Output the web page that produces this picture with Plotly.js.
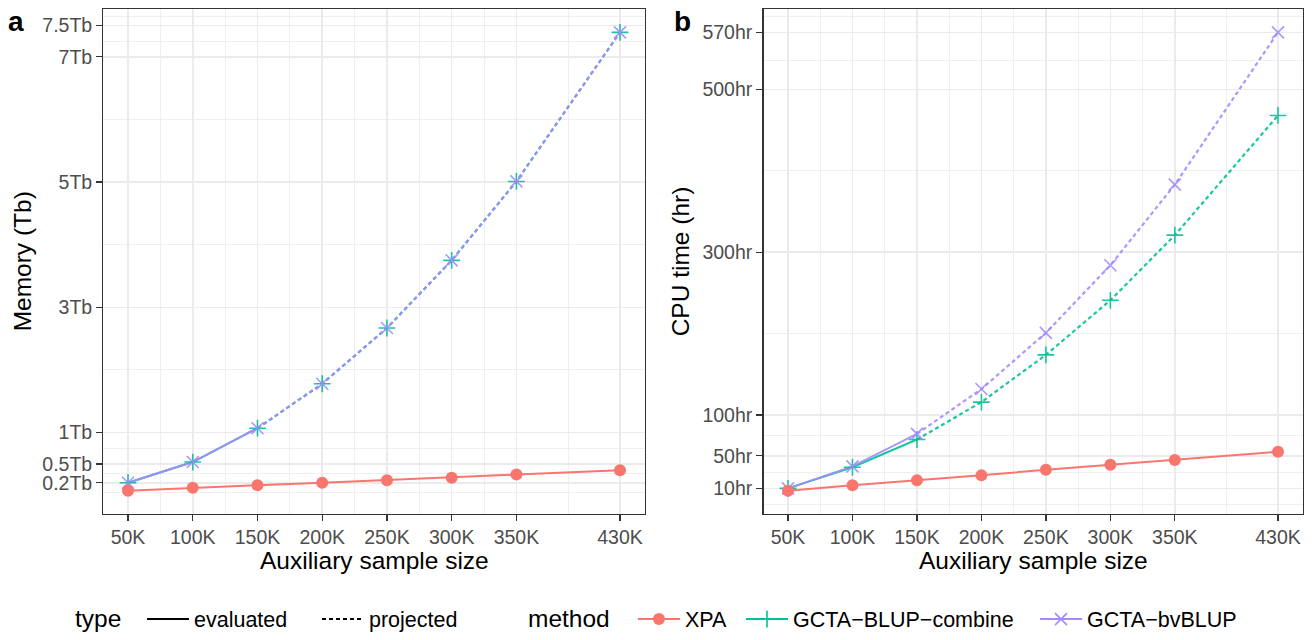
<!DOCTYPE html>
<html><head><meta charset="utf-8">
<script src="https://cdn.plot.ly/plotly-3.0.1.min.js"></script>
<style>html,body{margin:0;padding:0;background:#fff}#chart{width:1313px;height:640px}</style>
</head><body><div id="chart"></div>
<script>
// ---------- data ----------
const sampleSizesK = [50, 100, 150, 200, 250, 300, 350, 430];
const xTickLabels = ['50K', '100K', '150K', '200K', '250K', '300K', '350K', '430K'];
const evaluatedMaxK = 150; // GCTA methods were evaluated up to 150K, projected beyond

const memXPA     = [0.07, 0.12, 0.16, 0.20, 0.24, 0.28, 0.33, 0.40];
const memCombine = [0.20, 0.53, 1.07, 1.78, 2.67, 3.75, 5.01, 7.39];
const memBvBLUP  = [0.20, 0.53, 1.07, 1.78, 2.67, 3.75, 5.01, 7.39];

const cpuXPA     = [7, 14, 20, 26, 33, 39, 45, 55];
const cpuCombine = [10, 36, 70, 116, 174, 241, 321, 468];
const cpuBvBLUP  = [10, 37, 77, 132, 201, 284, 383, 570];

const memTicks = [0.2, 0.5, 1, 3, 5, 7, 7.5];
const memTickLabels = ['0.2Tb', '0.5Tb', '1Tb', '3Tb', '5Tb', '7Tb', '7.5Tb'];
const cpuTicks = [10, 50, 100, 300, 500, 570];
const cpuTickLabels = ['10hr', '50hr', '100hr', '300hr', '500hr', '570hr'];

const typeNames = ['evaluated', 'projected'];
const methodNames = ['XPA', 'GCTA\u2212BLUP\u2212combine', 'GCTA\u2212bvBLUP'];

// ---------- styling ----------
const FONT = 'Liberation Sans, Arial, Helvetica, sans-serif';
const W = 1313, H = 640;
const DASH = '4px,3px';
const methods = [
  {name: methodNames[1], mem: memCombine, cpu: cpuCombine, color: 'rgba(0,192,148,0.9)', solid: '#00C094', symbol: 'cross-thin-open', size: 12, allEvaluated: false},
  {name: methodNames[2], mem: memBvBLUP, cpu: cpuBvBLUP, color: 'rgba(165,138,255,0.9)', solid: '#A58AFF', symbol: 'x-thin-open', size: 12, allEvaluated: false},
  {name: methodNames[0], mem: memXPA, cpu: cpuXPA, color: '#F8766D', solid: '#F8766D', symbol: 'circle', size: 12, allEvaluated: true}
];

// ggplot-like minor breaks (midpoints, with one extension step each side)
function minorBreaks(b) {
  const bd = b[1] - b[0];
  const ext = [b[0] - bd].concat(b, [b[b.length - 1] + bd]);
  const out = [];
  for (let i = 0; i < ext.length - 1; i++) out.push((ext[i] + ext[i + 1]) / 2);
  return out;
}

const traces = [];
function addPanel(key, xa, ya) {
  // lines first
  methods.forEach(m => {
    const ys = m[key];
    const ex = [], ey = [], px = [], py = [];
    sampleSizesK.forEach((s, i) => {
      if (m.allEvaluated || s <= evaluatedMaxK) { ex.push(s); ey.push(ys[i]); }
      if (!m.allEvaluated && s >= evaluatedMaxK) { px.push(s); py.push(ys[i]); }
    });
    traces.push({x: ex, y: ey, xaxis: xa, yaxis: ya, mode: 'lines', showlegend: false, hoverinfo: 'skip',
      line: {color: m.color, width: 2}});
    if (px.length) traces.push({x: px, y: py, xaxis: xa, yaxis: ya, mode: 'lines', showlegend: false, hoverinfo: 'skip',
      line: {color: m.color, width: 2.2, dash: DASH}});
  });
  // then points
  methods.forEach(m => {
    const isCircle = m.symbol === 'circle';
    traces.push({x: sampleSizesK, y: m[key], xaxis: xa, yaxis: ya, mode: 'markers', showlegend: false,
      marker: {symbol: m.symbol, size: m.size, color: m.color,
        line: {color: m.color, width: isCircle ? 0 : 1.6}}});
  });
}
addPanel('mem', 'x', 'y');
addPanel('cpu', 'x2', 'y2');

// legend-only traces: type
traces.push({x: [null], y: [null], xaxis: 'x', yaxis: 'y', mode: 'lines', name: typeNames[0], legend: 'legend',
  legendwidth: 118, line: {color: '#000', width: 2}});
traces.push({x: [null], y: [null], xaxis: 'x', yaxis: 'y', mode: 'lines', name: typeNames[1], legend: 'legend',
  line: {color: '#000', width: 2, dash: DASH}});
// legend-only traces: method
const legendOrder = [methods[2], methods[0], methods[1]];
const methodWidths = [51, 237, null];
legendOrder.forEach((m, i) => {
  const t = {x: [null], y: [null], xaxis: 'x', yaxis: 'y', mode: 'lines+markers', name: m.name, legend: 'legend2',
    line: {color: m.solid, width: 2},
    marker: {symbol: m.symbol, size: m.size, color: m.solid, line: {color: m.solid, width: m.symbol === 'circle' ? 0 : 1.6}}};
  if (methodWidths[i]) t.legendwidth = methodWidths[i];
  traces.push(t);
});

const yDom = [1 - 517 / H, 1 - 9.5 / H];
function baseAxis() {
  return {
    showline: true, mirror: true, linecolor: '#333333', linewidth: 1.3,
    ticks: 'outside', ticklen: 6, tickwidth: 1.3, tickcolor: '#333333',
    tickfont: {family: FONT, size: 19.5, color: '#4D4D4D'},
    showgrid: true, gridcolor: '#EBEBEB', gridwidth: 1.6,
    zeroline: false, fixedrange: true, tickmode: 'array', layer: 'below traces'
  };
}
function xAxis(dom) {
  return Object.assign(baseAxis(), {
    domain: dom, range: [31, 449], tickvals: sampleSizesK, ticktext: xTickLabels,
    minor: {tickmode: 'array', tickvals: minorBreaks(sampleSizesK), showgrid: true, gridcolor: '#EBEBEB', gridwidth: 0.8, ticks: ''}
  });
}
function yAxis(range, tv, tt, anchor) {
  return Object.assign(baseAxis(), {
    domain: yDom, range: range, tickvals: tv, ticktext: tt, anchor: anchor,
    minor: {tickmode: 'array', tickvals: minorBreaks(tv), showgrid: true, gridcolor: '#EBEBEB', gridwidth: 0.8, ticks: ''}
  });
}

const ann = (text, xpx, ypx, size, extra) => Object.assign({
  text: text, xref: 'paper', yref: 'paper', x: xpx / W, y: 1 - ypx / H,
  xanchor: 'center', yanchor: 'middle', showarrow: false,
  font: {family: FONT, size: size, color: '#000'}
}, extra || {});

const legendBase = (xpx) => ({
  orientation: 'h', x: xpx / W, xanchor: 'left', y: 1 - 623 / H, yanchor: 'middle',
  itemwidth: 42, font: {family: FONT, size: 21.5, color: '#000'},
  bgcolor: 'rgba(0,0,0,0)', itemclick: false, itemdoubleclick: false
});

const layout = {
  width: W, height: H,
  margin: {l: 0, r: 0, t: 0, b: 0},
  paper_bgcolor: '#fff', plot_bgcolor: '#fff',
  font: {family: FONT, color: '#000'},
  xaxis: Object.assign(xAxis([103.4 / W, 644.6 / W]), {anchor: 'y'}),
  yaxis: yAxis([-0.296, 7.756], memTicks, memTickLabels, 'x'),
  xaxis2: Object.assign(xAxis([763.5 / W, 1302.5 / W]), {anchor: 'y2'}),
  yaxis2: yAxis([-21.15, 598.15], cpuTicks, cpuTickLabels, 'x2'),
  legend: legendBase(142),
  legend2: legendBase(633),
  annotations: [
    ann('<b>a</b>', 16, 22, 28),
    ann('<b>b</b>', 682, 22, 28),
    ann('Memory (Tb)', 22, 263, 24.5, {textangle: -90}),
    ann('CPU time (hr)', 680, 263, 24.5, {textangle: -90}),
    ann('Auxiliary sample size', 374, 564, 24.5),
    ann('Auxiliary sample size', 1033, 564, 24.5),
    ann('type', 73, 622, 24.5, {xanchor: 'left'}),
    ann('method', 526, 622, 24.5, {xanchor: 'left'})
  ],
  showlegend: true
};

Plotly.newPlot('chart', traces, layout, {displayModeBar: false, staticPlot: true});
</script>
</body></html>
